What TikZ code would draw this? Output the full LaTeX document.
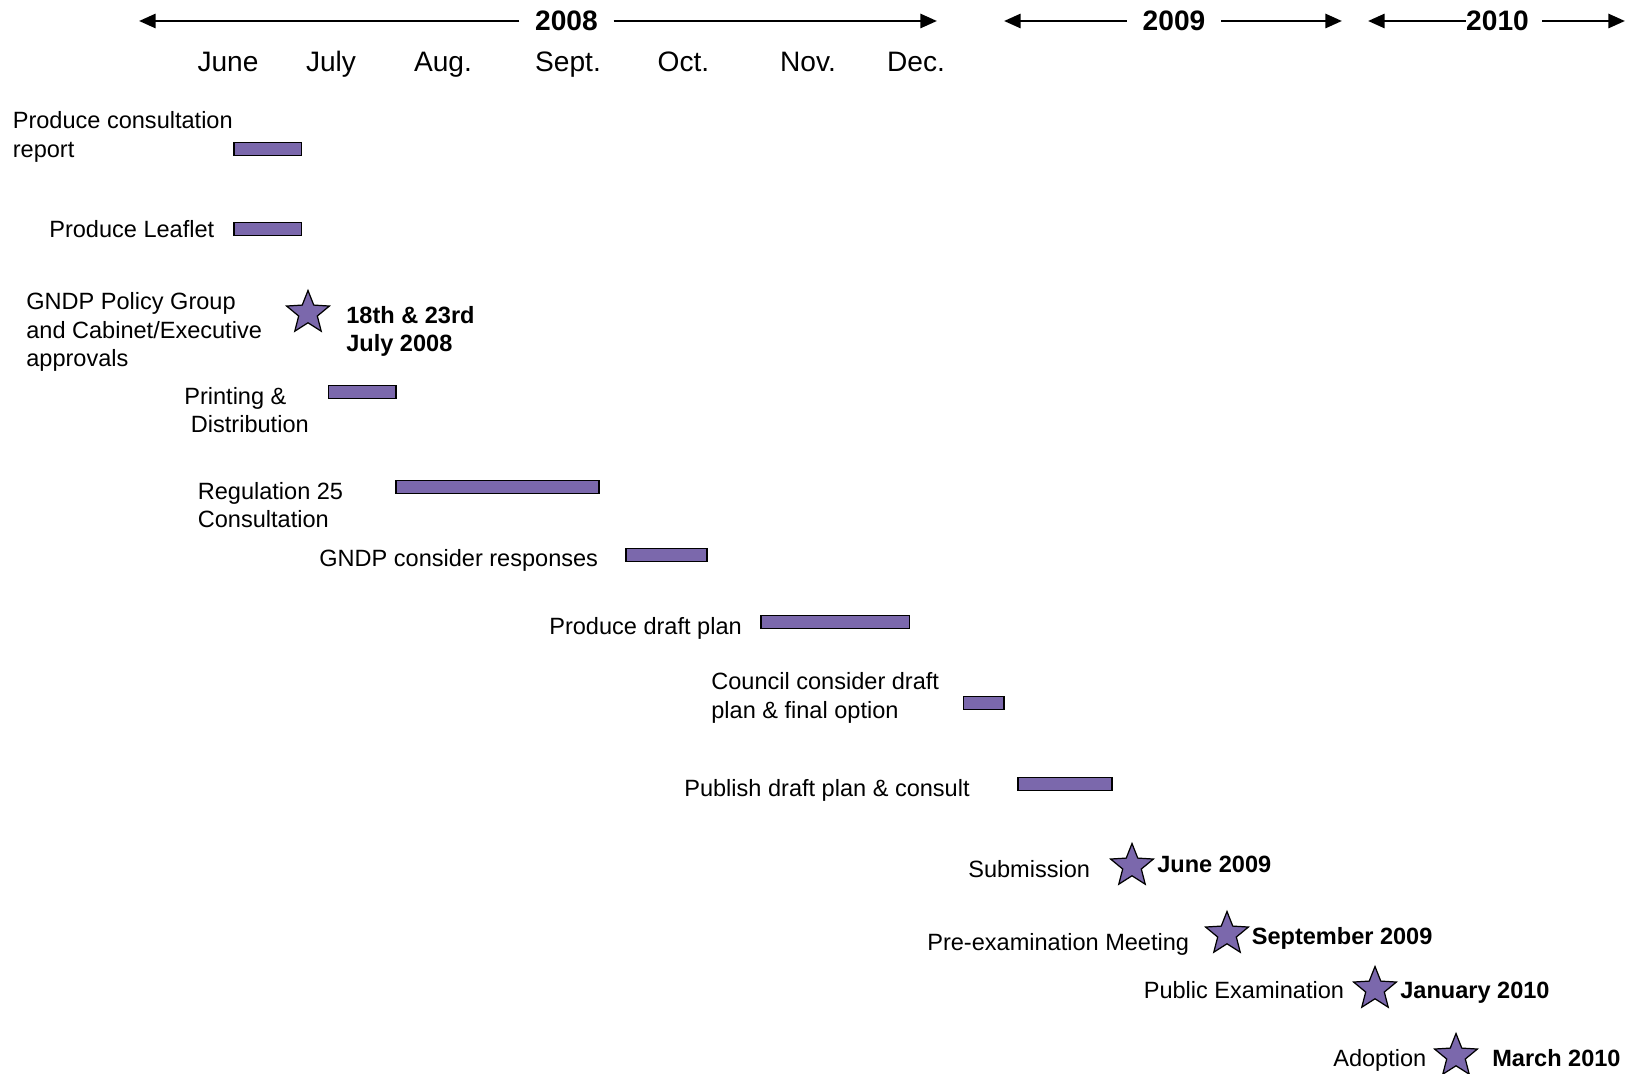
\documentclass[tikz,border=0pt]{standalone}
\usepackage{fontspec}
\setmainfont{Liberation Sans}
\usetikzlibrary{arrows.meta,shapes.geometric}
\definecolor{barpurple}{RGB}{123,104,172}
\tikzset{
  taskbar/.style={draw=black,fill=barpurple,line width=0.9pt,minimum height=0.26cm,inner sep=0pt},
  milestone/.style={star,star points=5,star point ratio=2.3,draw=black,fill=barpurple,line width=0.7pt,minimum size=0.9cm,inner sep=0pt},
  tasklbl/.style={anchor=west,align=left,inner sep=0pt,font=\fontsize{13.4}{16.1}\selectfont},
  datelbl/.style={tasklbl,font=\fontsize{13.4}{16.1}\selectfont\bfseries},
  monthlbl/.style={inner sep=0pt,text height=0.716em,text depth=0pt,font=\fontsize{16}{19}\selectfont},
  yearlbl/.style={inner ysep=0pt,inner xsep=0.31cm,font=\fontsize{16}{19}\selectfont\bfseries},
  yeararrow/.style={line width=1.6pt,-{Triangle[length=9.5pt,width=8pt]}}
}
\begin{document}
\begin{tikzpicture}[x=0.02cm,y=-0.02cm]
\useasboundingbox (0,0) rectangle (1630,1074);
\node[yearlbl] (y08) at (566.5,21) {2008}; \node[yearlbl] (y09) at (1174,21) {2009};
\node[yearlbl,inner xsep=0pt] (y10) at (1497.5,21) {2010};
\coordinate (y08w) at (139,21); \coordinate (y08e) at (937,21);
\coordinate (y09w) at (1004,21); \coordinate (y09e) at (1342,21);
\coordinate (y10w) at (1368,21); \coordinate (y10e) at (1625,21);
\draw[yeararrow] (y08.west) -- (y08w); \draw[yeararrow] (y08.east) -- (y08e);
\draw[yeararrow] (y09.west) -- (y09w); \draw[yeararrow] (y09.east) -- (y09e);
\draw[yeararrow] (y10.west) -- (y10w); \draw[yeararrow,shorten <=0.26cm] (y10.east) -- (y10e);
\foreach \m/\x [count=\i] in {June/228,July/331,Aug./443,Sept./568,Oct./683.5,Nov./808,Dec./916}
  \node[monthlbl] (mon\i) at (\x,65) {\m};
\foreach \n/\x/\y/\w in {1/267.75/149/1.35,2/267.75/229/1.35,3/362.25/392/1.35,4/497.5/487/4.06,
  5/666.5/555/1.62,6/835.25/622/2.97,7/983.75/703/0.81,8/1064.85/784/1.886}
  \node[taskbar,minimum width=\w cm] (bar\n) at (\x,\y) {};
\foreach \n/\x/\y in {1/308/313,2/1132/866,3/1227/934,4/1375/989,5/1456/1056}
  \node[milestone] (ms\n) at (\x,\y) {};
\node[tasklbl] (t1) at (12.5,137) {Produce consultation\\report};
\node[tasklbl] (t2) at (49,229) {Produce Leaflet};
\node[tasklbl] (t3) at (26,332) {GNDP Policy Group\\and Cabinet/Executive\\approvals};
\node[datelbl] (d1) at (346,331.5) {18th \& 23rd\\July 2008};
\node[tasklbl] (t4) at (184,410) {Printing \&\\\hspace*{0.28em}Distribution};
\node[tasklbl] (t5) at (197.5,505) {Regulation 25\\Consultation};
\node[tasklbl] (t6) at (319,560) {GNDP consider responses};
\node[tasklbl] (t7) at (549,628) {Produce draft plan};
\node[tasklbl] (t8) at (711,698) {Council consider draft\\plan \& final option};
\node[tasklbl] (t9) at (684,790) {Publish draft plan \& consult};
\node[tasklbl] (t10) at (968,869) {Submission};
\node[tasklbl] (t11) at (927,944) {Pre-examination Meeting};
\node[tasklbl] (t12) at (1143.5,990) {Public Examination};
\node[tasklbl] (t13) at (1333,1060) {Adoption};
\node[datelbl] (d2) at (1157,864) {June 2009};
\node[datelbl] (d3) at (1251.5,938.5) {September 2009};
\node[datelbl] (d4) at (1400,993) {January 2010};
\node[datelbl] (d5) at (1492,1058) {March 2010};
\end{tikzpicture}
\end{document}
